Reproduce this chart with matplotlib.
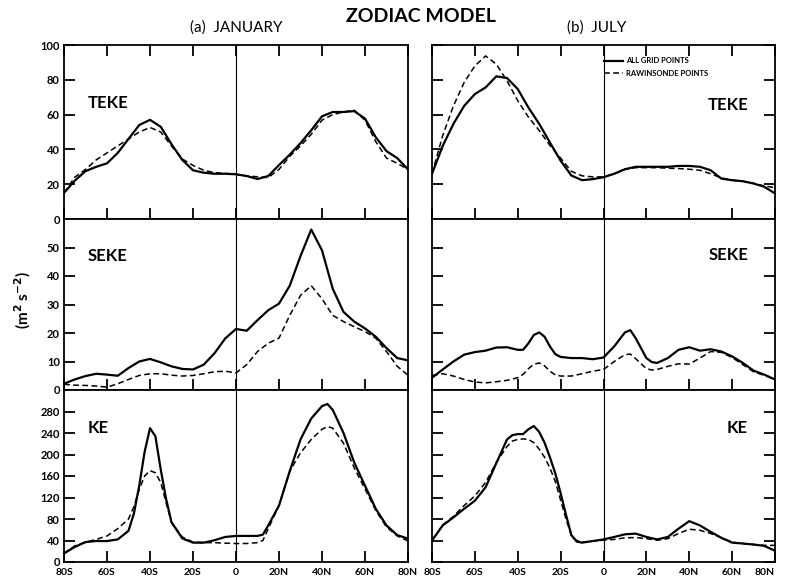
import matplotlib
matplotlib.use("Agg")
import matplotlib.pyplot as plt

plt.rcParams['font.family'] = ['Lato', 'DejaVu Sans']
plt.rcParams['font.weight'] = 'bold'

# latitude grid (negative = south)
lat = [-80, -75, -70, -65, -60, -55, -50, -45, -40, -35, -30, -25, -20, -15, -10, -5,
       0, 5, 10, 15, 20, 25, 30, 35, 40, 45, 50, 55, 60, 65, 70, 75, 80]

# TEKE
teke_jan_all = [15, 22, 27.5, 30, 32, 38, 46, 54, 57, 53, 43, 34, 28, 26.6, 26, 26,
                25.7, 24.7, 23, 24.7, 31, 37, 43.6, 51, 59, 61.5, 61.5, 62, 57.7, 47, 39, 35, 28.5]
teke_jan_raw = [15, 24, 28.5, 34, 38, 42, 46, 50, 52.6, 50, 42, 34.5, 30.8, 28, 26.6, 26.2,
                25.7, 24.7, 24.3, 23.8, 28.5, 36, 42, 48.7, 56.8, 60, 61.5, 62.5, 56.8, 44.5, 35, 32, 28.5]
teke_jul_all = [26, 42, 54.7, 65, 71.8, 75.6, 82, 81, 74.7, 64, 54.7, 44, 33.5, 25, 22.3, 22.9,
                24, 26, 28.6, 30, 30, 30, 30, 30.5, 30.5, 30, 28, 23.2, 22.3, 21.7, 20.4, 18.5, 14.7]
teke_jul_raw = [26, 48, 65, 78.5, 88, 93.7, 89, 79.4, 68, 58.5, 50.9, 42.3, 35, 27.4, 24.8, 24.2,
                24.2, 26, 28.5, 29.5, 29.5, 29.5, 29.2, 29, 28.6, 28, 26, 23.6, 22.3, 21.7, 20.5, 19, 18]

# SEKE
seke_jan_all = [2.2, 3.7, 4.9, 5.7, 5.4, 5.0, 7.7, 10, 10.9, 9.7, 8.3, 7.4, 7.2, 8.9, 12.9, 18.1,
                21.4, 20.8, 24.5, 28, 30.3, 36.6, 47, 56.3, 49, 35.5, 27.4, 24, 21.6, 18.7, 14.7, 11.2, 10.4]
seke_jan_raw = [2, 1.7, 1.6, 1.4, 1.0, 2.2, 3.7, 5.1, 5.7, 5.7, 5.2, 4.9, 5.1, 5.7, 6.4, 6.6,
                6.0, 8.9, 13.5, 16.4, 18.2, 26.2, 33.2, 36.6, 32, 26.2, 24, 22.2, 20.5, 18.2, 13.5, 8.3, 5.2]

lat_seke_jul = [-80, -75, -70, -65, -60, -55, -50, -45, -40, -37.5, -35, -32.5, -30, -27.5, -25,
                -22.5, -20, -15, -10, -5, 0, 5, 10, 12.5, 15, 20, 22.5, 25, 30, 35, 40, 45, 50,
                55, 60, 65, 70, 75, 80]
seke_jul_all = [4.3, 7.2, 10, 12.4, 13.3, 13.8, 14.9, 15, 14.1, 14.1, 16.4, 19.3, 20.2, 18.7, 15.3,
                12.6, 11.6, 11.2, 11.2, 10.8, 11.4, 15.3, 20.2, 21, 18.2, 11.2, 9.8, 9.5, 11.2, 14.1,
                15, 13.8, 14.3, 13.5, 11.8, 9.5, 6.8, 5.4, 3.7]
seke_jul_raw = [5.1, 5.7, 4.9, 3.7, 2.8, 2.5, 2.9, 3.4, 4.3, 5.5, 7.5, 9, 9.5, 8.5, 6.6,
                5.3, 4.9, 4.9, 5.7, 6.6, 7.2, 10, 12.4, 12.6, 11, 7.5, 7.0, 7.2, 8.3, 9.2,
                9.1, 11.2, 13.5, 13.2, 11.4, 8.9, 6.4, 5.1, 3.7]

# KE
lat_ke_jan = [-80, -75, -70, -65, -60, -55, -50, -47.5, -45, -42.5, -40, -37.5, -35, -32.5, -30,
              -25, -20, -15, -10, -5, 0, 5, 10, 12.5, 15, 20, 25, 30, 35, 40, 42.5, 45, 50,
              55, 60, 65, 70, 75, 80]
ke_jan_all = [16, 28, 37, 39, 39, 42, 58, 90, 142, 205, 249, 234, 172, 117, 74,
              44, 36, 36, 40.5, 46.6, 48.5, 48.5, 48.5, 51, 68, 105, 169, 228, 267, 290, 294, 283, 240,
              185, 142, 99, 68, 50, 43.5]
ke_jan_raw = [16, 30, 37, 42, 48.5, 62, 80, 103, 135, 160, 170, 166, 148, 110, 74,
              46.6, 37, 36, 36, 35, 34.4, 34.4, 36, 40, 62, 105, 169, 203, 228, 247, 252, 249, 221,
              175, 136, 96, 65, 48.5, 39]

lat_ke_jul = [-80, -75, -70, -65, -60, -55, -50, -45, -42.5, -40, -37.5, -35, -32.5, -30, -27.5,
              -25, -22.5, -20, -17.5, -15, -12.5, -10, -5, 0, 5, 10, 15, 20, 25, 30, 35, 40, 45,
              50, 55, 60, 65, 70, 75, 80]
ke_jul_all = [40, 68, 83, 99, 114, 139, 184, 228, 236, 238, 238, 247, 253, 242, 222,
              195, 165, 128, 88, 50, 38, 36, 39, 42, 46.6, 51.5, 52.8, 46.6, 42, 46.6, 62, 76, 68,
              56, 45, 36, 34.4, 32.5, 30, 21]
ke_jul_raw = [40, 69, 85, 105, 123, 148, 185, 215, 225, 228, 229, 228, 222, 210, 195,
              175, 150, 115, 80, 50, 40, 37, 39, 40.5, 42, 45, 45.5, 43.5, 40.5, 43.5, 53, 61, 59,
              53, 45, 37, 34.4, 32.5, 31, 31]

xticks = [-80, -60, -40, -20, 0, 20, 40, 60, 80]
xlabels = ['80S', '60S', '40S', '20S', '0', '20N', '40N', '60N', '80N']

rows = [
    dict(name='TEKE', ylim=(0, 100), yticks=[0, 20, 40, 60, 80, 100],
         jan=(lat, teke_jan_all, teke_jan_raw), jul=(lat, teke_jul_all, teke_jul_raw),
         ly=0.667, ry=0.655),
    dict(name='SEKE', ylim=(0, 60), yticks=[0, 10, 20, 30, 40, 50],
         jan=(lat, seke_jan_all, seke_jan_raw), jul=(lat_seke_jul, seke_jul_all, seke_jul_raw),
         ly=0.785, ry=0.79),
    dict(name='KE', ylim=(0, 320), yticks=[0, 40, 80, 120, 160, 200, 240, 280],
         jan=(lat_ke_jan, ke_jan_all, ke_jan_raw), jul=(lat_ke_jul, ke_jul_all, ke_jul_raw),
         ly=0.78, ry=0.78),
]

fig = plt.figure(figsize=(7.86, 5.82), dpi=100)

W, H = 786, 582
col_x = [(64, 344), (432, 343)]
row_y = [(45, 174), (219, 171), (390, 172)]

for i, row in enumerate(rows):
    top, h = row_y[i]
    for j, key in enumerate(['jan', 'jul']):
        x0, w = col_x[j]
        ax = fig.add_axes([x0 / W, 1 - (top + h) / H, w / W, h / H])
        x, s_all, s_raw = row[key]
        l1, = ax.plot(x, s_all, color='black', lw=1.6, solid_joinstyle='round',
                      label='ALL GRID POINTS')
        l2, = ax.plot(x, s_raw, color='black', lw=1.1, dashes=(3.8, 2.2),
                      label='RAWINSONDE POINTS')
        ax.axvline(0, color='black', lw=0.8)
        ax.set_xlim(-80, 80)
        ax.set_ylim(*row['ylim'])
        for sp in ax.spines.values():
            sp.set_linewidth(1.3)

        ax.set_xticks(xticks)
        ax.tick_params(axis='x', direction='in', length=8, width=1.3,
                       top=(i == 0), bottom=True, labelsize=7.5, pad=4)
        if i == 2:
            ax.set_xticklabels(xlabels)
            if j == 1:
                ax.get_xticklabels()[-1].set_horizontalalignment('right')
                ax.get_xticklabels()[-1].set_x(82)
        else:
            ax.set_xticklabels([])

        ax.set_yticks(row['yticks'])
        ax.tick_params(axis='y', direction='in', length=8, width=1.3,
                       left=True, right=(j == 1), labelsize=8, pad=3)
        if j == 1:
            ax.set_yticklabels([])

        if j == 0:
            ax.text(0.07, row['ly'], row['name'], transform=ax.transAxes,
                    ha='left', va='center', fontsize=12, fontweight='bold')
        else:
            ax.text(0.922, row['ry'], row['name'], transform=ax.transAxes,
                    ha='right', va='center', fontsize=12, fontweight='bold')

        if i == 0 and j == 1:
            ax.legend(handles=[l1, l2], loc='upper left', bbox_to_anchor=(0.5, 0.93),
                      frameon=False, fontsize=5.5, handlelength=2.6, handletextpad=0.3,
                      labelspacing=0.7, borderpad=0, borderaxespad=0)

fig.text(421 / W, 1 - 16 / H, 'ZODIAC MODEL', ha='center', va='center',
         fontsize=14, fontweight='bold')
fig.text(236 / W, 1 - 28 / H, '(a)  JANUARY', ha='center', va='center',
         fontsize=11, fontweight='normal')
fig.text(597 / W, 1 - 28 / H, '(b)  JULY', ha='center', va='center',
         fontsize=11, fontweight='normal')
fig.text(23 / W, 1 - 300 / H, r'(m$^{\mathbf{2}}$ s$^{\mathbf{-2}}$)', rotation=90,
         ha='center', va='center', fontsize=11)

fig.savefig('out.png', dpi=100)
